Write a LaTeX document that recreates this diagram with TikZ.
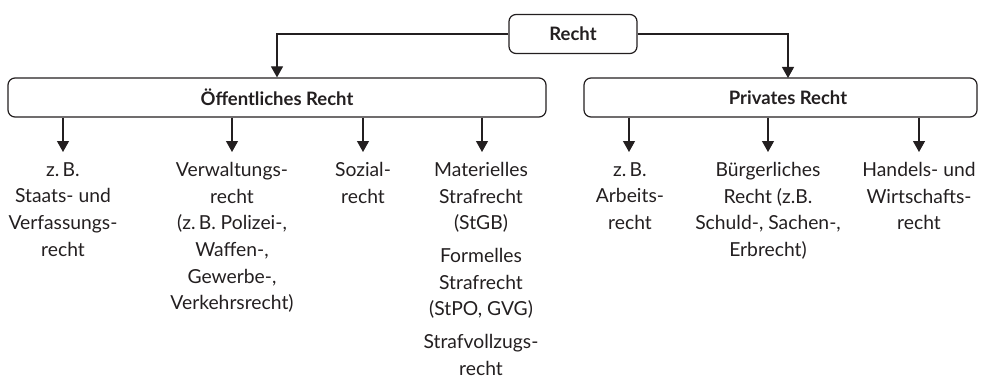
\documentclass[tikz,border=0pt]{standalone}
\usepackage{fontspec}
\setmainfont{Lato}
\usetikzlibrary{arrows.meta}
\definecolor{ink}{RGB}{35,31,32}
\begin{document}
\begin{tikzpicture}[x=1pt,y=-1pt,
  box/.style={draw=ink, line width=1.2pt, rounded corners=7pt, inner sep=0pt, text=ink,
    font=\fontsize{18.5}{20}\selectfont\bfseries},
  leaf/.style={anchor=north, align=center, inner xsep=0pt, inner ysep=0pt, text=ink,
    font=\fontsize{19.3}{26.7}\selectfont},
  conn/.style={draw=ink, line width=1.2pt, -{Triangle[width=12pt,length=11pt]}}
]
\useasboundingbox (0,0) rectangle (984,377);
\node[box, minimum width=128pt, minimum height=39pt] (recht) at (573,34) {Recht};
\node[box, minimum width=538pt, minimum height=39pt] (oeff) at (277,97.5) {Öffentliches Recht};
\node[box, minimum width=393pt, minimum height=39pt] (priv) at (780.5,97.5) {};
\node[text=ink, font=\fontsize{18.5}{20}\selectfont\bfseries, inner sep=0pt] (privlabel) at (788,97.5) {Privates Recht};
\coordinate (privin) at (788,78);

\draw[conn] (recht.west) -| (oeff.north);
\draw[conn] (recht.east) -| (privin);

% leaves
\node[leaf] (o1) at (63,162) {z.\,B.\\Staats- und\\Verfassungs-\\recht};
\node[leaf] (o2) at (232,162) {Verwaltungs-\\recht\\(z.\,B. Polizei-,\\Waffen-,\\Gewerbe-,\\Verkehrsrecht)};
\node[leaf] (o3) at (363,162) {Sozial-\\recht};
\node[leaf] (o4) at (481,162) {Materielles\\Strafrecht\\(StGB)\\[6pt]Formelles\\Strafrecht\\(StPO, GVG)\\[6pt]Strafvollzugs-\\recht};
\node[leaf] (p1) at (630,162) {z.\,B.\\Arbeits-\\recht};
\node[leaf] (p2) at (768,162) {Bürgerliches\\Recht (z.B.\\Schuld-, Sachen-,\\Erbrecht)};
\node[leaf] (p3) at (919,162) {Handels- und\\Wirtschafts-\\recht};

\coordinate (t1) at (63,152);
\coordinate (t2) at (232,152);
\coordinate (t3) at (363,152);
\coordinate (t4) at (482,152);
\coordinate (t5) at (629,152);
\coordinate (t6) at (768,152);
\coordinate (t7) at (919,152);
\foreach \t in {t1,t2,t3,t4} \draw[conn] (oeff.south -| \t) -- (\t);
\foreach \t in {t5,t6,t7} \draw[conn] (priv.south -| \t) -- (\t);
\end{tikzpicture}
\end{document}
